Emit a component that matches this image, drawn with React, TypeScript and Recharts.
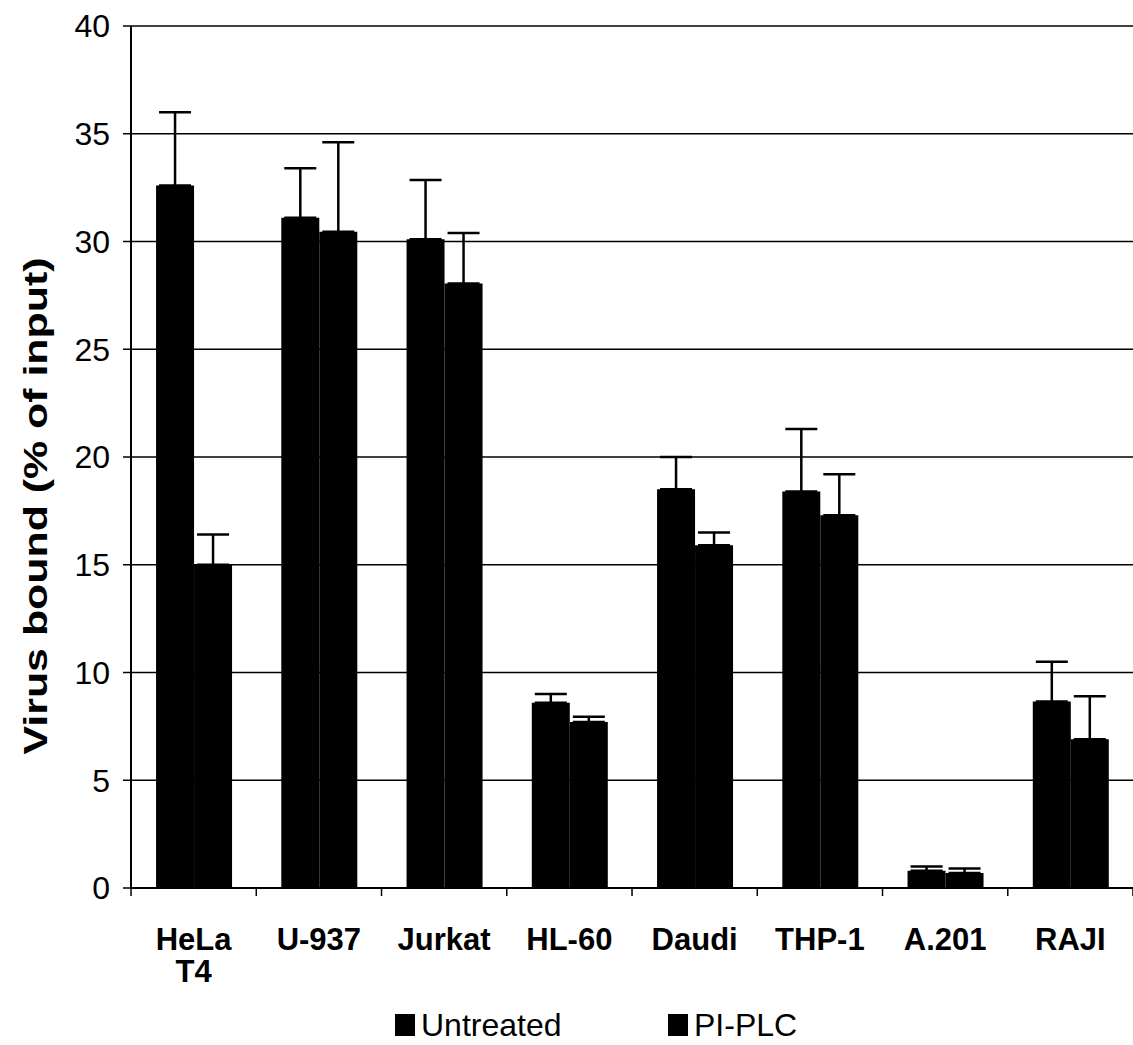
import { BarChart, Bar, XAxis, YAxis, CartesianGrid, ErrorBar, Legend, Label } from 'recharts';

const cellLines = ['HeLa T4', 'U-937', 'Jurkat', 'HL-60', 'Daudi', 'THP-1', 'A.201', 'RAJI'];
const untreated = [32.6, 31.1, 30.1, 8.6, 18.5, 18.4, 0.8, 8.65];
const untreatedErr = [3.4, 2.3, 2.75, 0.4, 1.5, 2.9, 0.2, 1.85];
const piPlc = [15.0, 30.45, 28.05, 7.7, 15.9, 17.3, 0.7, 6.9];
const piPlcErr = [1.4, 4.15, 2.35, 0.25, 0.6, 1.9, 0.2, 2.0];
const yTicks = [0, 5, 10, 15, 20, 25, 30, 35, 40];

const data = cellLines.map((name, i) => ({
  name,
  untreated: untreated[i],
  untreatedErr: [0, untreatedErr[i]],
  piPlc: piPlc[i],
  piPlcErr: [0, piPlcErr[i]],
}));

const FONT = '"Liberation Sans", Arial, Helvetica, sans-serif';
const HALF_BAND = 62.6;

function CategoryTick(props: any) {
  const { x, y, payload, index } = props;
  const lines = String(payload.value).split(' ');
  return (
    <g>
      <line x1={x - HALF_BAND} y1={y} x2={x - HALF_BAND} y2={y + 8} stroke="#000" strokeWidth={1.5} />
      {index === cellLines.length - 1 && (
        <line x1={x + HALF_BAND} y1={y} x2={x + HALF_BAND} y2={y + 8} stroke="#000" strokeWidth={1.5} />
      )}
      <text x={x} y={y + 62} textAnchor="middle" fontFamily={FONT} fontWeight="bold" fontSize={31} fill="#000">
        {lines.map((l, k) => (
          <tspan key={k} x={x} dy={k === 0 ? 0 : 32}>
            {l}
          </tspan>
        ))}
      </text>
    </g>
  );
}

function LegendContent() {
  const items = [
    { label: 'Untreated', left: 395 },
    { label: 'PI-PLC', left: 668 },
  ];
  return (
    <div style={{ position: 'relative', width: 1133, height: 40 }}>
      {items.map((it) => (
        <div
          key={it.label}
          style={{
            position: 'absolute',
            left: it.left,
            top: 0,
            display: 'flex',
            alignItems: 'center',
            height: 40,
            fontFamily: FONT,
            fontSize: 32,
            color: '#000',
          }}
        >
          <span style={{ display: 'inline-block', width: 20, height: 22, background: '#000', marginRight: 6 }} />
          {it.label}
        </div>
      ))}
    </div>
  );
}

export default function App() {
  return (
    <div style={{ position: 'absolute', left: 0, top: 0, width: 1133, height: 1045, background: '#fff' }}>
      <BarChart
        width={1133}
        height={1045}
        data={data}
        margin={{ top: 26, right: 0, left: 0, bottom: 0 }}
        barCategoryGap="20%"
        barGap={0}
      >
        <CartesianGrid horizontal vertical={false} stroke="#000" strokeWidth={1.5} />
        <XAxis
          dataKey="name"
          height={117}
          tickSize={0}
          tickMargin={0}
          tick={<CategoryTick />}
          interval={0}
          axisLine={{ stroke: '#000', strokeWidth: 2 }}
          tickLine={false}
        />
        <YAxis
          width={131}
          domain={[0, 40]}
          ticks={yTicks}
          interval={0}
          tickSize={8}
          tickMargin={13}
          axisLine={{ stroke: '#000', strokeWidth: 2 }}
          tickLine={{ stroke: '#000', strokeWidth: 1.5 }}
          tick={{ fill: '#000', fontSize: 32, fontFamily: FONT }}
        >
          <Label
            content={() => (
              <text
                x={47}
                y={506}
                transform="rotate(-90, 47, 506)"
                textAnchor="middle"
                fontFamily={FONT}
                fontWeight="bold"
                fontSize={34}
                textLength={497}
                lengthAdjust="spacingAndGlyphs"
                fill="#000"
              >
                Virus bound (% of input)
              </text>
            )}
          />
        </YAxis>
        <Legend verticalAlign="bottom" content={<LegendContent />} wrapperStyle={{ left: 0, width: 1133 }} />
        <Bar dataKey="untreated" name="Untreated" fill="#000" isAnimationActive={false}>
          <ErrorBar dataKey="untreatedErr" direction="y" width={16} stroke="#000" strokeWidth={2.5} />
        </Bar>
        <Bar dataKey="piPlc" name="PI-PLC" fill="#000" isAnimationActive={false}>
          <ErrorBar dataKey="piPlcErr" direction="y" width={16} stroke="#000" strokeWidth={2.5} />
        </Bar>
      </BarChart>
    </div>
  );
}
